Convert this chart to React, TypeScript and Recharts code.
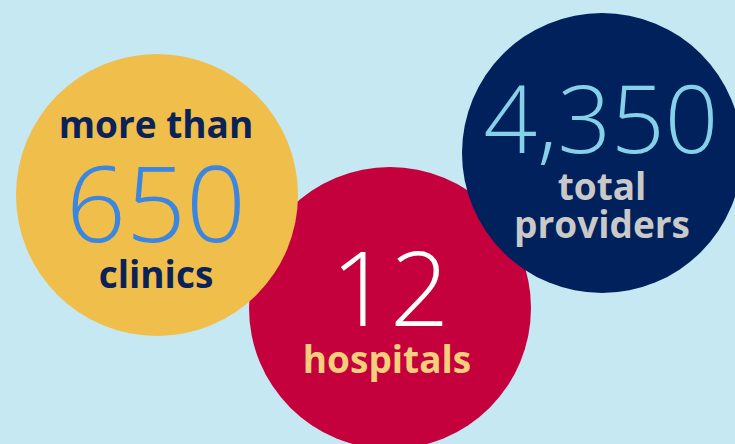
import React from 'react';
import { ScatterChart, Scatter, XAxis, YAxis } from 'recharts';

// ---- data ----
const categories = ['clinics', 'hospitals', 'total providers'];
const values = [650, 12, 4350];
const prefixes = ['more than', '', ''];

// ---- layout / style (kept apart from data) ----
const W = 735;
const H = 444;
const centerX = [157, 390, 602];
const centerY = [195, 308, 153];
const radius = [141, 141, 140];
const circleFill = ['#F0BE4A', '#C4003D', '#00215B'];
const numberColor = ['#3A86E0', '#FFFFFF', '#86D0EA'];
const labelColor = ['#0B2259', '#F6CF7B', '#C9C9C9'];
const numberSize = [105, 104, 94];
const numberDx = [-1, 0, -1];
const numberDy = [47, 18, 0];
const prefixDy = [-57, 0, 0];
const labelDx = [-1, -3, 0];
const labelDy = [[93], [65], [47, 85]];
const labelSize = 37;
const drawOrder = [1, 0, 2];
const FONT = '"Open Sans", "Noto Sans", sans-serif';

const points = drawOrder.map((i) => ({
  idx: i,
  x: centerX[i],
  y: centerY[i],
  value: values[i],
  category: categories[i],
  prefix: prefixes[i],
}));

const Bubble = (props: any) => {
  const { cx, cy, payload } = props;
  const i = payload.idx;
  const labelLines = i === 2 ? payload.category.split(' ') : [payload.category];
  return (
    <g>
      <circle cx={cx} cy={cy} r={radius[i]} fill={circleFill[i]} />
      {payload.prefix ? (
        <text
          x={cx + labelDx[i]}
          y={cy + prefixDy[i]}
          textAnchor="middle"
          fontFamily={FONT}
          fontWeight={700}
          fontSize={labelSize}
          fill={labelColor[i]}
        >
          {payload.prefix}
        </text>
      ) : null}
      <text
        x={cx + numberDx[i]}
        y={cy + numberDy[i]}
        textAnchor="middle"
        fontFamily={FONT}
        fontWeight={300}
        fontSize={numberSize[i]}
        fill={numberColor[i]}
      >
        {payload.value.toLocaleString('en-US')}
      </text>
      {labelLines.map((line: string, k: number) => (
        <text
          key={k}
          x={cx + labelDx[i]}
          y={cy + labelDy[i][k]}
          textAnchor="middle"
          fontFamily={FONT}
          fontWeight={700}
          fontSize={labelSize}
          fill={labelColor[i]}
        >
          {line}
        </text>
      ))}
    </g>
  );
};

export default function App() {
  return (
    <div
      style={{
        position: 'absolute',
        left: 0,
        top: 0,
        width: W,
        height: H,
        background: '#C5E8F2',
        overflow: 'hidden',
      }}
    >
      <ScatterChart width={W} height={H} margin={{ top: 0, right: 0, bottom: 0, left: 0 }}>
        <XAxis type="number" dataKey="x" domain={[0, W]} hide />
        <YAxis type="number" dataKey="y" domain={[0, H]} reversed hide />
        <Scatter data={points} shape={Bubble} isAnimationActive={false} />
      </ScatterChart>
    </div>
  );
}
